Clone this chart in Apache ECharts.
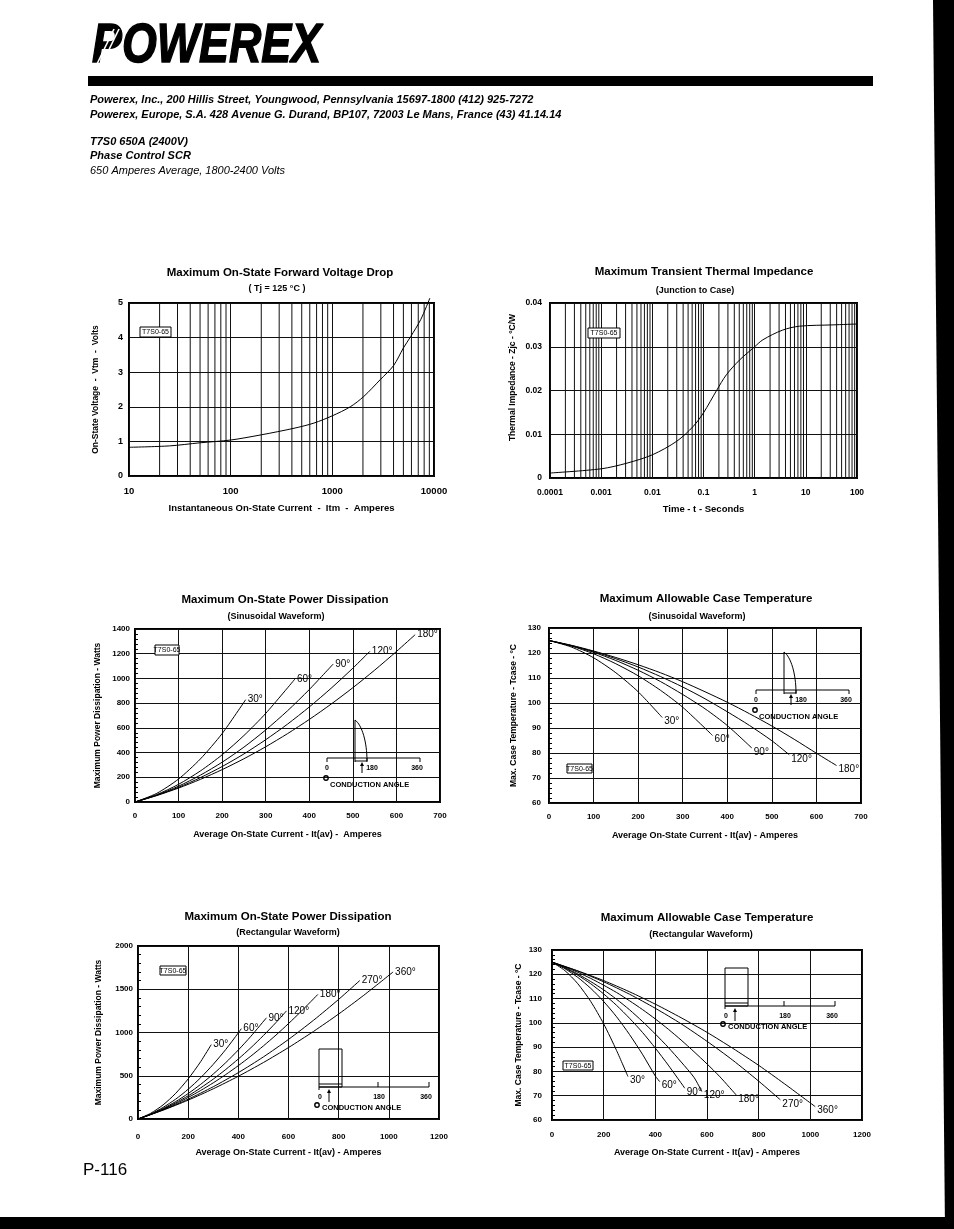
<!DOCTYPE html>
<html><head><meta charset="utf-8">
<script src="https://cdn.jsdelivr.net/npm/echarts@6/dist/echarts.min.js"></script>
<style>html,body{margin:0;padding:0;background:#fff}#c{width:954px;height:1229px}</style>
</head><body><div id="c"></div>
<script>
// ---------- DATA ----------
// Chart 1: Maximum On-State Forward Voltage Drop
const vdropCurrent = [10,25,50,100,200,420,660,1000,1500,2040,2950,4000,5000,5900,7400,9100];
const vdropVoltage = [0.83,0.87,0.96,1.04,1.19,1.38,1.53,1.74,2.0,2.30,2.78,3.19,3.70,4.03,4.52,5.14];
const vdropMinorGrid = [20,30,40,50,60,70,80,90,200,300,400,500,600,700,800,900,2000,3000,4000,5000,6000,7000,8000,9000];

// Chart 2: Maximum Transient Thermal Impedance
const zthTime = [0.0001,0.001,0.0032,0.01,0.03,0.063,0.1,0.18,0.28,0.51,1,1.45,3.5,7.5,34,100];
const zthValue = [0.00114,0.0021,0.0034,0.0053,0.0084,0.0118,0.0149,0.020,0.0236,0.027,0.030,0.0316,0.0338,0.0347,0.0350,0.0352];
const zthTickLabels = ['0.0001','0.001','0.01','0.1','1','10','100'];
const zthMinorGrid = [
  0.0002,0.0003,0.0004,0.0005,0.0006,0.0007,0.0008,0.0009,
  0.002,0.003,0.004,0.005,0.006,0.007,0.008,0.009,
  0.02,0.03,0.04,0.05,0.06,0.07,0.08,0.09,
  0.2,0.3,0.4,0.5,0.6,0.7,0.8,0.9,
  2,3,4,5,6,7,8,9,
  20,30,40,50,60,70,80,90
];

// Chart 3: Max On-State Power Dissipation (Sinusoidal)
const sinNames = ['30°','60°','90°','120°','180°'];
const sinPowX = [
  [0,50,100,150,200,254],
  [0,50,100,150,200,250,300,367],
  [0,50,100,150,200,250,300,350,400,455],
  [0,50,100,150,200,250,300,350,400,450,500,539],
  [0,50,100,150,200,250,300,350,400,450,500,550,600,643]
];
const sinPowW = [
  [0,70,186,348,554,828],
  [0,60,143,251,382,538,717,995],
  [0,56,128,217,322,444,583,738,910,1117],
  [0,54,119,197,287,389,504,630,769,920,1083,1219],
  [0,52,113,183,262,350,447,553,668,792,925,1067,1218,1354]
];

// Chart 4: Max Allowable Case Temperature (Sinusoidal)
const sinTempX = [
  [0,50,100,150,200,254],
  [0,50,100,150,200,250,300,367],
  [0,50,100,150,200,250,300,350,400,455],
  [0,50,100,150,200,250,300,350,400,450,500,539],
  [0,50,100,150,200,250,300,350,400,450,500,550,600,645]
];
const sinTempC = [
  [125,122.4,118.1,112.1,104.5,94.2],
  [125,122.8,119.7,115.7,110.9,105.1,98.3,87],
  [125,122.9,120.3,117.0,113.1,108.6,103.4,97.7,91.0,82],
  [125,123.0,120.6,117.7,114.4,110.6,106.4,101.7,96.5,91.0,84.9,79.3],
  [125,123.1,120.8,118.2,115.3,112.1,108.5,104.5,100.3,95.7,90.8,85.5,79.9,75.0]
];

// Chart 5: Max On-State Power Dissipation (Rectangular)
const rectNames = ['30°','60°','90°','120°','180°','270°','360°'];
const rectPowX = [
  [0,50,100,150,200,250,292],
  [0,50,100,150,200,250,300,350,400,412],
  [0,50,100,150,200,250,300,350,400,450,512],
  [0,50,100,150,200,250,300,350,400,450,500,550,592],
  [0,50,100,150,200,250,300,350,400,450,500,550,600,650,717],
  [0,100,200,300,400,500,600,700,800,884],
  [0,100,200,300,400,500,600,700,800,900,1017]
];
const rectPowW = [
  [0,65,163,296,463,664,860],
  [0,57,134,229,344,478,632,804,996,1045],
  [0,54,121,201,294,401,520,652,798,956,1170],
  [0,52,115,187,268,360,461,573,694,824,965,1115,1250],
  [0,51,110,176,249,330,418,514,617,727,845,970,1103,1243,1440],
  [0,105,229,373,536,718,920,1142,1383,1600],
  [0,102,218,349,494,653,826,1013,1214,1430,1700]
];

// Chart 6: Max Allowable Case Temperature (Rectangular)
const rectTempX = [
  [0,50,100,150,200,250,294],
  [0,50,100,150,200,250,300,350,400,417],
  [0,50,100,150,200,250,300,350,400,450,514],
  [0,50,100,150,200,250,300,350,400,450,500,550,580],
  [0,50,100,150,200,250,300,350,400,450,500,550,600,650,713],
  [0,100,200,300,400,500,600,700,800,884],
  [0,100,200,300,400,500,600,700,800,900,1019]
];
const rectTempC = [
  [125,121.5,116.1,108.8,99.6,88.6,77.9],
  [125,122.3,118.7,114.2,108.8,102.5,95.2,87.1,78.1,75.8],
  [125,122.6,119.6,116.1,111.9,107.2,101.9,96.1,89.6,82.6,73.1],
  [125,122.8,120.1,117.0,113.6,109.7,105.4,100.6,95.4,89.9,83.9,77.5,71.7],
  [125,123.1,120.8,118.3,115.5,112.5,109.1,105.5,101.6,97.4,92.9,88.1,83.1,77.8,70.3],
  [125,121.3,116.9,111.8,106.0,99.6,92.4,84.6,76.0,68.3],
  [125,121.4,117.4,112.8,107.7,102.1,96.1,89.5,82.5,74.9,65.5]
];

// ---------- RENDER ----------
const FF = '"Liberation Sans", Arial, Helvetica, sans-serif';
const zip = (xs, ys) => xs.map((x, i) => [x, ys[i]]);
const plainNum = v => String(+(+v).toPrecision(6));

const grids = [
  {left:129, top:303, width:305, height:173},
  {left:550, top:303, width:307, height:175},
  {left:135, top:629, width:305, height:173},
  {left:549, top:628, width:312, height:175},
  {left:138, top:946, width:301, height:173},
  {left:552, top:950, width:310, height:170}
].map(g => Object.assign(g, {show:true, borderColor:'#000', borderWidth:2, backgroundColor:'transparent', containLabel:false, outerBoundsMode:'none'}));

function mkAxis(o) {
  const a = {
    type: o.type || 'value', gridIndex: o.grid,
    min: o.min, max: o.max,
    axisLine: {show:false},
    axisTick: {show:false, inside:true},
    splitLine: {show:true, lineStyle:{color:'#111', width:1}},
    axisLabel: {color:'#000', fontSize:o.fs, fontWeight:'bold', fontFamily:FF, margin:o.margin, showMinLabel:true, showMaxLabel:true,
                formatter: o.fmt || plainNum},
    name: o.name, nameLocation:'middle', nameGap:o.nameGap,
    nameTextStyle: {color:'#000', fontSize:o.nameFs, fontWeight:'bold', fontFamily:FF, padding:o.namePad || 0}
  };
  if (o.interval != null) a.interval = o.interval;
  if (o.type === 'log') a.logBase = 10;
  if (o.minor) a.minorTick = {show:true, splitNumber:o.minor, length:3, lineStyle:{color:'#000', width:1}};
  return a;
}

const xAxis = [
  mkAxis({grid:0, type:'log', min:10, max:10000, fs:9.5, margin:10, name:'Instantaneous On-State Current  -  Itm  -  Amperes', nameGap:27, nameFs:9.5}),
  mkAxis({grid:1, type:'log', min:0.0001, max:100, fs:8.5, margin:10, name:'Time - t - Seconds', nameGap:26, nameFs:9.5,
          fmt: v => zthTickLabels[Math.round(Math.log10(v)) + 4]}),
  mkAxis({grid:2, min:0, max:700, interval:100, fs:8, margin:10, name:'Average On-State Current - It(av) -  Amperes', nameGap:28, nameFs:9}),
  mkAxis({grid:3, min:0, max:700, interval:100, fs:8, margin:10, name:'Average On-State Current - It(av) - Amperes', nameGap:28, nameFs:9}),
  mkAxis({grid:4, min:0, max:1200, interval:200, fs:8, margin:14, name:'Average On-State Current - It(av) - Amperes', nameGap:29, nameFs:9}),
  mkAxis({grid:5, min:0, max:1200, interval:200, fs:8, margin:11, name:'Average On-State Current - It(av) - Amperes', nameGap:28, nameFs:9})
];
const yAxis = [
  mkAxis({grid:0, min:0, max:5, interval:1, fs:9, margin:6, name:'On-State Voltage  -  Vtm  -  Volts', nameGap:29, nameFs:8.5}),
  mkAxis({grid:1, min:0, max:0.04, interval:0.01, fs:8.5, margin:8, name:'Thermal Impedance - Zjc - °C/W', nameGap:33, nameFs:8.5, namePad:[0,0,0,26]}),
  mkAxis({grid:2, min:0, max:1400, interval:200, fs:8, margin:5, name:'Maximum Power Dissipation - Watts', nameGap:33, nameFs:8.5, minor:5}),
  mkAxis({grid:3, min:60, max:130, interval:10, fs:8, margin:8, name:'Max. Case Temperature - Tcase - °C', nameGap:31, nameFs:8.5, minor:5}),
  mkAxis({grid:4, min:0, max:2000, interval:500, fs:8, margin:5, name:'Maximum Power Dissipation - Watts', nameGap:35, nameFs:8.5, minor:5}),
  mkAxis({grid:5, min:60, max:130, interval:10, fs:8, margin:10, name:'Max. Case Temperature - Tcase - °C', nameGap:29, nameFs:8.5, minor:5})
];

const lineBase = {type:'line', showSymbol:false, symbol:'none', lineStyle:{color:'#000', width:1}, silent:true};
// minor log gridlines drawn as broken vertical segments through the axes' scales
function minorGridSeries(idx, values, yMin, yMax) {
  const data = [];
  values.forEach(v => { data.push([v, yMin], [v, yMax], [v, '-']); });
  return Object.assign({}, lineBase, {name:'grid' + idx, xAxisIndex:idx, yAxisIndex:idx, connectNulls:false, z:1,
    lineStyle:{color:'#111', width:1}, data});
}
function family(idx, names, xs, ys, offY) {
  return names.map((n, i) => Object.assign({}, lineBase, {
    name: n, xAxisIndex: idx, yAxisIndex: idx, smooth: 0.25, z:3,
    data: zip(xs[i], ys[i]),
    endLabel: {show:true, formatter: n, color:'#000', fontSize:10, fontFamily:FF, distance:2, offset:[0, offY]}
  }));
}

const series = [
  minorGridSeries(0, vdropMinorGrid, 0, 5),
  minorGridSeries(1, zthMinorGrid, 0, 0.04),
  Object.assign({}, lineBase, {name:'Vtm', xAxisIndex:0, yAxisIndex:0, smooth:0.3, clip:false, z:3,
    data: zip(vdropCurrent, vdropVoltage)}),
  Object.assign({}, lineBase, {name:'Zjc', xAxisIndex:1, yAxisIndex:1, smooth:0.3, z:3,
    data: zip(zthTime, zthValue)}),
  ...family(2, sinNames, sinPowX, sinPowW, 0),
  ...family(3, sinNames, sinTempX, sinTempC, 4),
  ...family(4, rectNames, rectPowX, rectPowW, 0),
  ...family(5, rectNames, rectTempX, rectTempC, 4)
];

// ---------- DECORATION (graphic) ----------
const G = [];
function txt(x, y, text, font, align, extra) {
  G.push(Object.assign({type:'text', silent:true, z:50,
    style:{x, y, text, font, fill:'#000', align: align || 'left', verticalAlign:'middle', textAlign: align || 'left', textVerticalAlign:'middle'}}, extra || {}));
}
function ln(x1, y1, x2, y2, w) {
  G.push({type:'line', silent:true, z:50, shape:{x1, y1, x2, y2}, style:{stroke:'#000', lineWidth: w || 1}});
}
const TITLE = 'bold 11.5px ' + FF, SUB = 'bold 9px ' + FF;

// header
G.push({type:'text', silent:true, z:50, x:92, y:47, scaleX:0.8,
  style:{x:0, y:0, text:'POWEREX', font:'italic bold 56px ' + FF, fill:'#000', stroke:'#000', lineWidth:1.5,
         align:'left', verticalAlign:'middle', textAlign:'left', textVerticalAlign:'middle'}});
[[96,66,114,29],[101,66,119,29]].forEach(s => G.push({type:'line', silent:true, z:51,
  shape:{x1:s[0], y1:s[1], x2:s[2], y2:s[3]}, style:{stroke:'#fff', lineWidth:1.6}}));
G.push({type:'rect', silent:true, z:50, shape:{x:88, y:76, width:785, height:10}, style:{fill:'#000'}});
txt(90, 100, 'Powerex, Inc., 200 Hillis Street, Youngwood, Pennsylvania 15697-1800 (412) 925-7272', 'italic bold 11px ' + FF);
txt(90, 115, 'Powerex, Europe, S.A. 428 Avenue G. Durand, BP107, 72003 Le Mans, France (43) 41.14.14', 'italic bold 11px ' + FF);
txt(90, 142, 'T7S0 650A (2400V)', 'italic bold 11px ' + FF);
txt(90, 156, 'Phase Control SCR', 'italic bold 11px ' + FF);
txt(90, 171, '650 Amperes Average, 1800-2400 Volts', 'italic 11px ' + FF);
txt(83, 1170, 'P-116', '17px ' + FF);

// titles
txt(280, 273, 'Maximum On-State Forward Voltage Drop', TITLE, 'center');
txt(277, 289, '( Tj = 125 °C )', SUB, 'center');
txt(704, 272, 'Maximum Transient Thermal Impedance', TITLE, 'center');
txt(695, 291, '(Junction to Case)', SUB, 'center');
txt(285, 600, 'Maximum On-State Power Dissipation', TITLE, 'center');
txt(276, 617, '(Sinusoidal Waveform)', SUB, 'center');
txt(706, 599, 'Maximum Allowable Case Temperature', TITLE, 'center');
txt(697, 617, '(Sinusoidal Waveform)', SUB, 'center');
txt(288, 917, 'Maximum On-State Power Dissipation', TITLE, 'center');
txt(288, 933, '(Rectangular Waveform)', SUB, 'center');
txt(707, 918, 'Maximum Allowable Case Temperature', TITLE, 'center');
txt(701, 935, '(Rectangular Waveform)', SUB, 'center');

// device tags
const tagBoxes = [[140,327,31,10],[588,328,32,10],[155,645,24,10],[567,764,25,9],[160,966,26,9],[563,1061,30,9]];
tagBoxes.forEach(b => {
  G.push({type:'rect', silent:true, z:50, shape:{x:b[0], y:b[1], width:b[2], height:b[3]}, style:{fill:'#fff', stroke:'#000', lineWidth:1}});
  txt(b[0] + b[2] / 2, b[1] + b[3] / 2 + 0.5, 'T7S0-65', '7px ' + FF, 'center');
});

// conduction-angle insets
const SF = 'bold 7px ' + FF, CF = 'bold 7.5px ' + FF;
function arrowUp(x, yb, yt) {
  ln(x, yb, x, yt + 2, 1);
  G.push({type:'polygon', silent:true, z:50, shape:{points:[[x, yt], [x - 2, yt + 4], [x + 2, yt + 4]]}, style:{fill:'#000'}});
}
function sineInset(x0, y0) {
  ln(x0, y0, x0 + 93, y0); ln(x0, y0, x0, y0 + 4); ln(x0 + 93, y0, x0 + 93, y0 + 4);
  ln(x0 + 28, y0 - 38, x0 + 28, y0 + 4);
  G.push({type:'bezierCurve', silent:true, z:50, shape:{x1:x0 + 28, y1:y0 - 38, cpx1:x0 + 35, cpy1:y0 - 33, cpx2:x0 + 40, cpy2:y0 - 16, x2:x0 + 40, y2:y0 + 3},
          style:{stroke:'#000', lineWidth:1, fill:'none'}});
  ln(x0 + 28, y0 + 3, x0 + 40, y0 + 3); ln(x0 + 40, y0, x0 + 40, y0 + 4);
  arrowUp(x0 + 35, y0 + 15, y0 + 4);
  txt(x0, y0 + 10, '0', SF, 'center'); txt(x0 + 45, y0 + 10, '180', SF, 'center'); txt(x0 + 90, y0 + 10, '360', SF, 'center');
  G.push({type:'circle', silent:true, z:50, shape:{cx:x0 - 1, cy:y0 + 20, r:2.2}, style:{fill:'none', stroke:'#000', lineWidth:1.4}});
  txt(x0 + 3, y0 + 27, 'CONDUCTION ANGLE', CF, 'left');
}
function rectInset(x0, y0) {
  G.push({type:'rect', silent:true, z:50, shape:{x:x0, y:y0 - 38, width:23, height:38}, style:{fill:'none', stroke:'#000', lineWidth:1}});
  ln(x0, y0, x0 + 110, y0); ln(x0, y0 - 3, x0 + 23, y0 - 3);
  ln(x0 + 59, y0, x0 + 59, y0 - 5); ln(x0 + 110, y0, x0 + 110, y0 - 5); ln(x0, y0, x0, y0 + 3);
  arrowUp(x0 + 10, y0 + 15, y0 + 2);
  txt(x0 + 1, y0 + 10, '0', SF, 'center'); txt(x0 + 60, y0 + 10, '180', SF, 'center'); txt(x0 + 107, y0 + 10, '360', SF, 'center');
  G.push({type:'circle', silent:true, z:50, shape:{cx:x0 - 2, cy:y0 + 18, r:2.2}, style:{fill:'none', stroke:'#000', lineWidth:1.4}});
  txt(x0 + 3, y0 + 21, 'CONDUCTION ANGLE', CF, 'left');
}
sineInset(327, 758);
sineInset(756, 690);
rectInset(319, 1087);
rectInset(725, 1006);

// scan border
G.push({type:'polygon', silent:true, z:60, shape:{points:[[933,0],[954,0],[954,1229],[945,1229]]}, style:{fill:'#000'}});
G.push({type:'rect', silent:true, z:60, shape:{x:0, y:1217, width:954, height:12}, style:{fill:'#000'}});

const chart = echarts.init(document.getElementById('c'), null, {renderer:'canvas'});
chart.setOption({
  animation: false,
  backgroundColor: '#fff',
  textStyle: {fontFamily: FF, color:'#000'},
  grid: grids, xAxis, yAxis, series,
  graphic: {elements: G}
});
</script>
</body></html>
